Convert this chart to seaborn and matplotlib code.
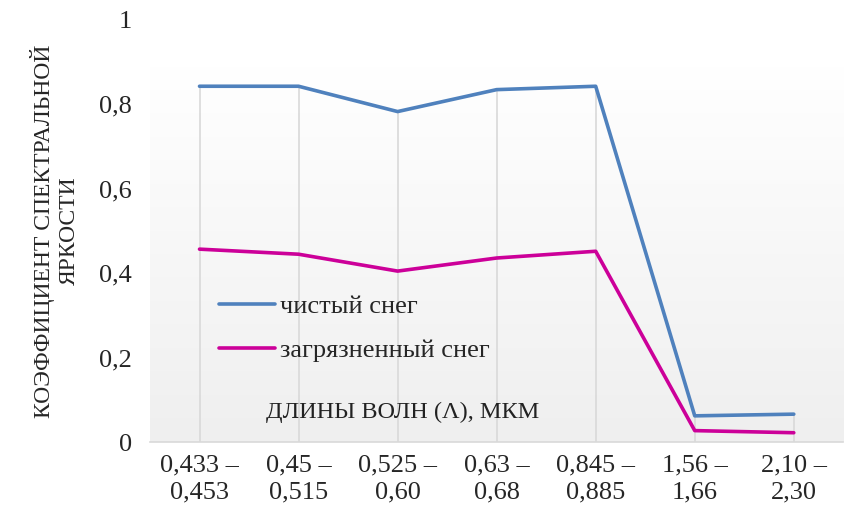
import numpy as np
import pandas as pd
import matplotlib
matplotlib.use("Agg")
import matplotlib.pyplot as plt
from matplotlib.colors import LinearSegmentedColormap
from matplotlib.ticker import FuncFormatter
import seaborn as sns

# -------------------------------------------------
# DATA
# -------------------------------------------------
wavebands = ["0,433 –\n0,453", "0,45 –\n0,515", "0,525 –\n0,60", "0,63 –\n0,68",
             "0,845 –\n0,885", "1,56 –\n1,66", "2,10 –\n2,30"]
clean_snow = [0.843, 0.843, 0.783, 0.835, 0.843, 0.062, 0.066]
dirty_snow = [0.457, 0.445, 0.405, 0.436, 0.452, 0.027, 0.022]
series_names = ["чистый снег", "загрязненный снег"]

df = pd.DataFrame({
    "pos": list(range(len(wavebands))) * 2,
    "value": clean_snow + dirty_snow,
    "series": [series_names[0]] * len(wavebands) + [series_names[1]] * len(wavebands),
})

# -------------------------------------------------
# STYLE
# -------------------------------------------------
sns.set_style("white")
plt.rcParams["font.family"] = ["Liberation Serif", "DejaVu Serif"]
FS = 19

fig = plt.figure(figsize=(8.45, 5.18), dpi=100)
ax = fig.add_axes([0.1775, 0.1467, 0.8205, 0.8147])

# gradient plot-area background (the inner plot area stops below the top tick)
cmap = LinearSegmentedColormap.from_list("bg", ["#efefef", "#ffffff"])
ax.imshow(np.linspace(0, 1, 256).reshape(-1, 1), cmap=cmap, aspect="auto",
          extent=[-0.5, len(wavebands) - 0.5, 0, 0.89], origin="lower", zorder=0)

# drop lines from the upper series to the axis
top = np.maximum(clean_snow, dirty_snow)
ax.vlines(range(len(wavebands)), 0, top, color="#d9d9d9", lw=1.2, zorder=1)

sns.lineplot(data=df, x="pos", y="value", hue="series", ax=ax,
             palette={series_names[0]: "#4f81bd", series_names[1]: "#cc0099"},
             linewidth=2.6, zorder=3, sort=False)

ax.set_xlim(-0.5, len(wavebands) - 0.5)
ax.set_ylim(0, 1)
ax.set_xticks(range(len(wavebands)))
ax.set_xticklabels(wavebands, fontsize=FS, linespacing=1.3)
ax.set_yticks([0, 0.2, 0.4, 0.6, 0.8, 1.0])
ax.yaxis.set_major_formatter(FuncFormatter(lambda v, p: ("%g" % v).replace(".", ",")))
ax.tick_params(axis="y", labelsize=FS, length=0, pad=13)
ax.tick_params(axis="x", length=0, pad=9)

for s in ["top", "right", "left"]:
    ax.spines[s].set_visible(False)
ax.spines["bottom"].set_color("#d9d9d9")
ax.spines["bottom"].set_linewidth(1.2)

ax.set_xlabel("")
ax.set_ylabel("КОЭФФИЦИЕНТ СПЕКТРАЛЬНОЙ\nЯРКОСТИ", fontsize=17, linespacing=1.2, labelpad=14)

# x axis title sits inside the plot
ax.text(0.167, 0.07, "ДЛИНЫ ВОЛН (Λ), МКМ", transform=ax.transAxes, fontsize=17.5,
        ha="left", va="center", color="#222222")

ax.legend(loc="upper left", bbox_to_anchor=(0.1, 0.35), frameon=False, fontsize=FS,
          handlelength=2.1, handletextpad=0.2, labelspacing=0.78, borderaxespad=0,
          borderpad=0)

fig.savefig("out.png", dpi=100)
